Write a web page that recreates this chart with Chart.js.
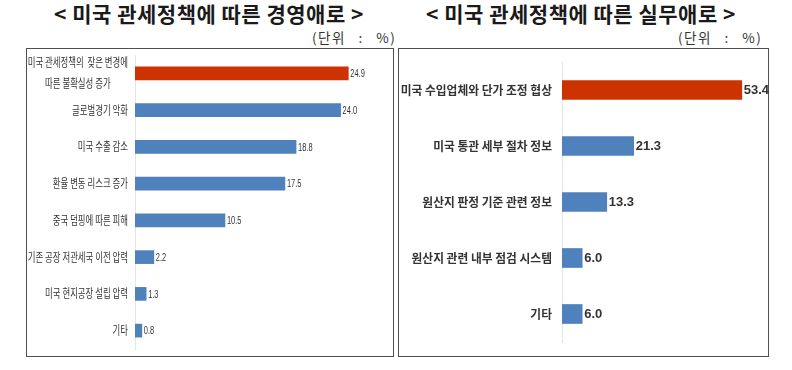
<!DOCTYPE html>
<html>
<head>
<meta charset="utf-8">
<script src="https://cdn.jsdelivr.net/npm/chart.js@4.4.1/dist/chart.umd.min.js"></script>
<style>
  body { margin: 0; background: #fff; width: 792px; height: 370px; position: relative; overflow: hidden;
         font-family: "Noto Sans CJK KR", sans-serif; }
  .title { position: absolute; top: 1px; width: 400px; text-align: center; font-weight: bold;
           font-size: 21px; line-height: 24px; letter-spacing: 0.5px; color: #1a1a1a; white-space: pre; }
  .unit { position: absolute; top: 29px; font-size: 13.5px; line-height: 16px; color: #333;
          white-space: pre; word-spacing: 8px; letter-spacing: 1.5px; }
  .box { position: absolute; top: 48px; height: 309px; border: 1.5px solid #505050; box-sizing: border-box; }
  canvas { position: absolute; }
</style>
</head>
<body>
<div class="title" style="left:9px">&lt; 미국 관세정책에 따른 경영애로 &gt;</div>
<div class="title" style="left:381px">&lt; 미국 관세정책에 따른 실무애로 &gt;</div>
<div class="unit" style="left:312px">(단위 : %)</div>
<div class="unit" style="left:678px">(단위 : %)</div>
<div class="box" style="left:26px; width:368px"></div>
<div class="box" style="left:398px; width:371px"></div>
<canvas id="bizChart" width="365" height="307" style="left:27px; top:49px"></canvas>
<canvas id="workChart" width="380" height="307" style="left:399px; top:49px"></canvas>

<script>
// left chart: 경영애로
const bizLabels = [
    ["미국 관세정책의  잦은 변경에", "따른 불확실성 증가"],
    "글로벌경기 악화",
    "미국 수출 감소",
    "환율 변동 리스크 증가",
    "중국 덤핑에 따른 피해",
    "기존 공장 저관세국 이전 압력",
    "미국 현지공장 설립 압력",
    "기타"
];
const bizValues = [24.9, 24.0, 18.8, 17.5, 10.5, 2.2, 1.3, 0.8];

// right chart: 실무애로
const workLabels = [
    "미국 수입업체와 단가 조정 협상",
    "미국 통관 세부 절차 정보",
    "원산지 판정 기준 관련 정보",
    "원산지 관련 내부 점검 시스템",
    "기타"
];
const workValues = [53.4, 21.3, 13.3, 6.0, 6.0];

const RED = "#cc3300";
const BLUE = "#4f81bd";

// draws category labels (condensed, block right-aligned, lines centred) and value labels
const sideText = {
    id: "sideText",
    afterDraw(chart, args, opts) {
        const ctx = chart.ctx;
        const yScale = chart.scales.y;
        const xScale = chart.scales.x;
        const data = chart.data.datasets[0].data;
        ctx.save();
        ctx.textBaseline = "middle";
        chart.data.labels.forEach((lab, i) => {
            const y = yScale.getPixelForValue(i);
            const lines = Array.isArray(lab) ? lab : [lab];
            ctx.font = opts.labelFont;
            ctx.fillStyle = opts.labelColor;
            const w = Math.max(...lines.map(l => ctx.measureText(l).width * opts.labelScale));
            const cx = chart.chartArea.left - opts.labelGap - w / 2;
            lines.forEach((l, k) => {
                const ly = y + (k - (lines.length - 1) / 2) * opts.lineHeight;
                ctx.save();
                ctx.translate(cx, ly);
                ctx.scale(opts.labelScale, 1);
                ctx.textAlign = "center";
                ctx.fillText(l, 0, 0);
                ctx.restore();
            });

            const v = data[i];
            ctx.font = opts.valueFont;
            ctx.fillStyle = opts.valueColor;
            ctx.save();
            ctx.translate(xScale.getPixelForValue(v) + opts.valueGap, y + 0.5);
            ctx.scale(opts.valueScale, 1);
            ctx.textAlign = "left";
            ctx.fillText(v.toFixed(1), 0, 0);
            ctx.restore();
        });
        ctx.restore();
    }
};

function makeChart(id, labels, values, colors, o) {
    return new Chart(document.getElementById(id), {
        type: "bar",
        data: {
            labels,
            datasets: [{ data: values, backgroundColor: colors, barThickness: o.bar }]
        },
        options: {
            indexAxis: "y",
            responsive: false,
            animation: false,
            layout: { padding: { top: o.padTop, bottom: o.padBottom, left: 0, right: o.padRight } },
            plugins: {
                legend: { display: false },
                tooltip: { enabled: false },
                sideText: o.text
            },
            scales: {
                x: { display: false, min: 0, max: o.max },
                y: {
                    grid: { display: false, drawTicks: false },
                    border: { display: true, color: "#e4e4e4", width: 1 },
                    ticks: { display: false },
                    afterFit(scale) { scale.width = o.axisW; }
                }
            }
        },
        plugins: [sideText]
    });
}

makeChart("bizChart", bizLabels, bizValues,
    bizValues.map((v, i) => i === 0 ? RED : BLUE), {
        bar: 13, padTop: 6, padBottom: 7, padRight: 0, max: 30, axisW: 108,
        text: {
            labelFont: "12px 'Noto Sans CJK KR'", labelScale: 0.7, labelColor: "#333",
            labelGap: 7, lineHeight: 21,
            valueFont: "11.5px 'Liberation Sans'", valueScale: 0.65, valueColor: "#333", valueGap: 2
        }
    });

makeChart("workChart", workLabels, workValues,
    workValues.map((v, i) => i === 0 ? RED : BLUE), {
        bar: 19, padTop: 13, padBottom: 14, padRight: 15, max: 60, axisW: 163,
        text: {
            labelFont: "bold 12px 'Noto Sans CJK KR'", labelScale: 0.98, labelColor: "#333",
            labelGap: 10, lineHeight: 14,
            valueFont: "bold 13px 'Liberation Sans'", valueScale: 1, valueColor: "#333", valueGap: 2
        }
    });
</script>
</body>
</html>
